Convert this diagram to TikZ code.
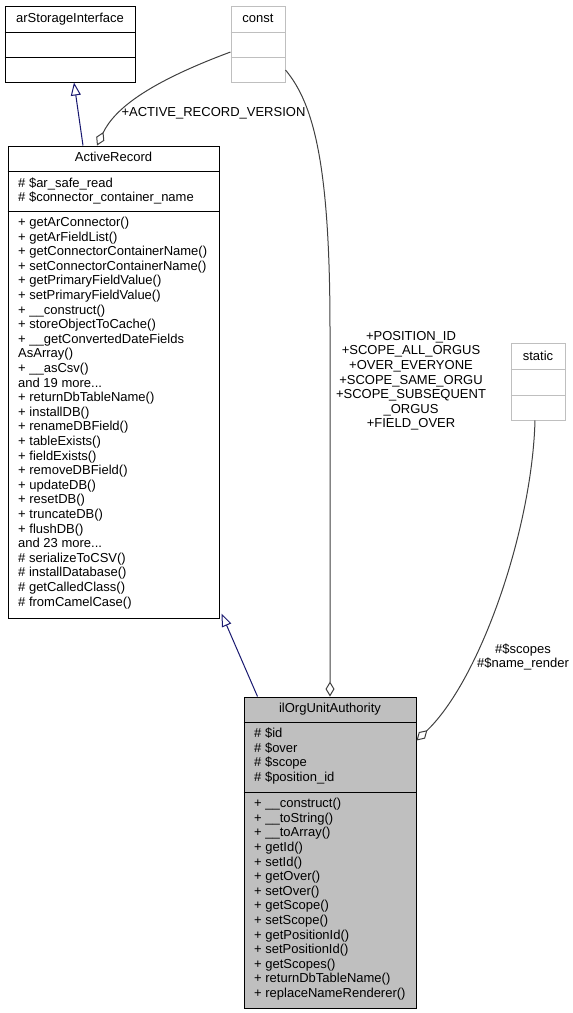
\documentclass[tikz,border=0pt]{standalone}
\usepackage{fontspec}
\setmainfont{Liberation Sans}
\usetikzlibrary{arrows.meta}
\definecolor{edgeblue}{RGB}{25,25,112}
\definecolor{edgegray}{RGB}{64,64,64}
\definecolor{boxgray}{RGB}{191,191,191}
\tikzset{
 umlbox/.style={draw=black, line width=1pt, rectangle, inner sep=0pt},
 ghostbox/.style={draw=boxgray, line width=1pt, rectangle, inner sep=0pt},
 sepline/.style={line width=1pt},
 txt/.style={inner sep=0pt, font=\fontsize{13}{14.6}\selectfont},
 inherit/.style={draw=edgeblue, line width=1pt, -{Triangle[open, length=13pt, width=10pt]}},
 aggr/.style={draw=edgegray, line width=1pt, -{Diamond[open, length=15pt, width=9pt]}},
}
\newcommand\threedots{...}
% name, x, first baseline y, anchor, list of lines
\newcommand\txtlines[5]{\foreach \t [count=\i from 0] in {#5} {\node[txt, anchor=#4] (#1\i) at ({#2},{#3+\i*14.6}) {\t};}}
\begin{document}
\begin{tikzpicture}[x=1pt, y=-1pt]
\useasboundingbox (0,0) rectangle (573,1013);

% arStorageInterface
\node[umlbox, minimum width=130pt, minimum height=76pt] (asi) at (70,44) {};
\draw[sepline] (asi.west |- 0,32) -- (asi.east |- 0,32);
\draw[sepline] (asi.west |- 0,57) -- (asi.east |- 0,57);
\node[txt, anchor=base] (asiT) at (70,22) {arStorageInterface};

% const
\node[ghostbox, minimum width=54pt, minimum height=76pt] (const) at (258,44) {};
\draw[sepline, boxgray] (const.west |- 0,32) -- (const.east |- 0,32);
\draw[sepline, boxgray] (const.west |- 0,57) -- (const.east |- 0,57);
\node[txt, anchor=base] (constT) at (258,22) {const};

% static
\node[ghostbox, minimum width=54pt, minimum height=77pt] (static) at (538,381.5) {};
\draw[sepline, boxgray] (static.west |- 0,369) -- (static.east |- 0,369);
\draw[sepline, boxgray] (static.west |- 0,395) -- (static.east |- 0,395);
\node[txt, anchor=base] (staticT) at (538,360) {static};

% ActiveRecord
\node[umlbox, minimum width=211pt, minimum height=472pt] (ar) at (113.5,382) {};
\draw[sepline] (ar.west |- 0,171) -- (ar.east |- 0,171);
\draw[sepline] (ar.west |- 0,211) -- (ar.east |- 0,211);
\node[txt, anchor=base] (arT) at (113.5,161.3) {ActiveRecord};
\txtlines{arA}{18}{187}{base west}{\# \$ar\_safe\_read, \# \$connector\_container\_name}
\txtlines{arM}{18}{226.5}{base west}{%
+ getArConnector(),
+ getArFieldList(),
+ getConnectorContainerName(),
+ setConnectorContainerName(),
+ getPrimaryFieldValue(),
+ setPrimaryFieldValue(),
+ \_\_construct(),
+ storeObjectToCache(),
+ \_\_getConvertedDateFields,
AsArray(),
+ \_\_asCsv(),
and 19 more\threedots,
+ returnDbTableName(),
+ installDB(),
+ renameDBField(),
+ tableExists(),
+ fieldExists(),
+ removeDBField(),
+ updateDB(),
+ resetDB(),
+ truncateDB(),
+ flushDB(),
and 23 more\threedots,
\# serializeToCSV(),
\# installDatabase(),
\# getCalledClass(),
\# fromCamelCase()}

% ilOrgUnitAuthority
\node[umlbox, fill=boxgray, minimum width=172pt, minimum height=311pt] (ilo) at (330,852.5) {};
\draw[sepline] (ilo.west |- 0,722) -- (ilo.east |- 0,722);
\draw[sepline] (ilo.west |- 0,792) -- (ilo.east |- 0,792);
\node[txt, anchor=base] (iloT) at (330,712.7) {ilOrgUnitAuthority};
\txtlines{iloA}{254}{737.5}{base west}{\# \$id, \# \$over, \# \$scope, \# \$position\_id}
\txtlines{iloM}{254}{807.7}{base west}{%
+ \_\_construct(),
+ \_\_toString(),
+ \_\_toArray(),
+ getId(),
+ setId(),
+ getOver(),
+ setOver(),
+ getScope(),
+ setScope(),
+ getPositionId(),
+ setPositionId(),
+ getScopes(),
+ returnDbTableName(),
+ replaceNameRenderer()}

% inheritance
\draw[inherit] ([xshift=-30.5pt]ar.north) -- ([xshift=4pt]asi.south);
\draw[inherit] ([xshift=14pt]ilo.north west) -- ([xshift=2pt,yshift=5pt]ar.south east);

% aggregation
\draw[aggr] ([yshift=-8pt]const.west) .. controls (150,82) and (115,108) .. ([xshift=-16.5pt]ar.north);
\node[txt, anchor=base] (lblARV) at (213.5,116.7) {+ACTIVE\_RECORD\_VERSION};

\draw[aggr] ([yshift=-26pt]const.east) .. controls (315,105) and (330,170) .. (330,330) -- (ilo.north);
\txtlines{lblC}{411}{340.3}{base}{+POSITION\_ID, +SCOPE\_ALL\_ORGUS, +OVER\_EVERYONE, +SCOPE\_SAME\_ORGU, +SCOPE\_SUBSEQUENT, \_ORGUS, +FIELD\_OVER}

\draw[aggr] ([xshift=-3pt]static.south) .. controls (532,530) and (480,680) .. ([yshift=-44pt]ilo.north east);
\txtlines{lblS}{523}{653.3}{base}{\#\$scopes, \#\$name\_render}
\end{tikzpicture}
\end{document}
